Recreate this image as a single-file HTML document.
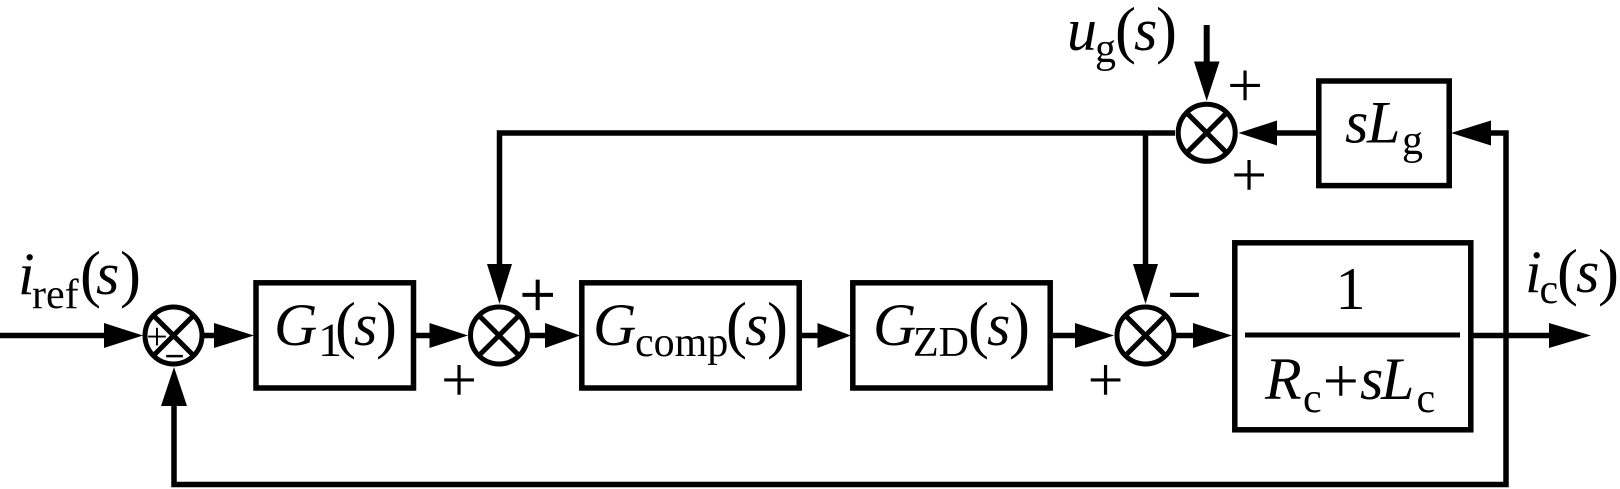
<!DOCTYPE html>
<html><head><meta charset="utf-8"><style>
html,body{margin:0;padding:0;background:#fff;width:1620px;height:489px;overflow:hidden}
svg{display:block}
text{font-family:"Liberation Serif",serif;font-size:60px;fill:#000}
.i{font-style:italic}
.s{font-size:42px}
.b{font-size:63px}
.p{font-size:64px;text-anchor:middle}
</style></head><body>
<svg width="1620" height="489" viewBox="0 0 1620 489" xmlns="http://www.w3.org/2000/svg">
<g fill="none" stroke="#000" stroke-width="5.5">
<!-- boxes -->
<rect x="256" y="282.800" width="157.500" height="105.200"/>
<rect x="581.800" y="282.800" width="217.400" height="105.200"/>
<rect x="852.800" y="282.800" width="197.400" height="105.200"/>
<rect x="1234.800" y="242.800" width="236" height="187"/>
<rect x="1318.800" y="81" width="130.400" height="104.600"/>
<!-- wires -->
<path d="M0 335.500H110M204 335.500H220M416 335.500H435M530 335.500H550M802 335.500H822M1053 335.500H1080M1176 335.500H1198M1473 335.500H1555"/>
<path d="M1245 335H1460" stroke-width="5"/>
<path d="M1175 133H499.500V270"/>
<path d="M1145.500 133V270"/>
<path d="M1206.700 25V66" stroke-width="6"/>
<path d="M1270 133H1316M1485 133H1506V484.500H174V400"/>
<!-- summers -->
<g stroke-width="5">
<circle cx="173.500" cy="335.500" r="28.500"/><path d="M153.500 315.500L193.500 355.500M193.500 315.500L153.500 355.500"/>
<circle cx="499" cy="335.500" r="28.500"/><path d="M479 315.500L519 355.500M519 315.500L479 355.500"/>
<circle cx="1145.500" cy="335.500" r="28.500"/><path d="M1125.500 315.500L1165.500 355.500M1165.500 315.500L1125.500 355.500"/>
<circle cx="1206.700" cy="132.800" r="28.500"/><path d="M1186.700 112.800L1226.700 152.800M1226.700 112.800L1186.700 152.800"/>
</g>
</g>
<!-- arrowheads -->
<g fill="#000">
<path d="M104 323L143 335.500L104 348Z"/>
<path d="M214 323L254 335.500L214 348Z"/>
<path d="M429.500 323L468 335.500L429.500 348Z"/>
<path d="M545 323L580 335.500L545 348Z"/>
<path d="M817.500 323L851 335.500L817.500 348Z"/>
<path d="M1075 323L1114 335.500L1075 348Z"/>
<path d="M1193 323L1232 335.500L1193 348Z"/>
<path d="M1549 323L1591 335.500L1549 348Z"/>
<path d="M487 264L499.500 304L512 264Z"/>
<path d="M1133 264L1145.500 304L1158 264Z"/>
<path d="M1194 61.500L1206.700 101L1219.500 61.500Z"/>
<path d="M161 406L174 367L187 406Z"/>
<path d="M1277 120.500L1238.500 133L1277 145.500Z"/>
<path d="M1491 120.500L1451 133L1491 145.500Z"/>
</g>
<!-- labels -->
<text class="i" x="18" y="294">i</text><text class="s" x="32" y="308">ref</text><text class="b" x="80" y="295">(</text><text class="i" x="96" y="294">s</text><text class="b" x="120" y="295">)</text>
<text class="i" x="274" y="345">G</text><text x="318" y="356" style="font-size:48px">1</text><text class="b" x="335" y="346">(</text><text class="i" x="354" y="345">s</text><text class="b" x="376" y="346">)</text>
<text class="i" x="593" y="345">G</text><text class="s" x="635" y="356">comp</text><text class="b" x="726" y="346">(</text><text class="i" x="745" y="345">s</text><text class="b" x="767" y="346">)</text>
<text class="i" x="873" y="345">G</text><text class="s" x="913" y="356">ZD</text><text class="b" x="968" y="346">(</text><text class="i" x="987" y="345">s</text><text class="b" x="1009" y="346">)</text>
<text x="1335.500" y="309">1</text>
<text class="i" x="1265" y="399">R</text><text class="s" x="1303" y="412">c</text><text x="1322.700" y="402" style="font-size:64px">+</text><text class="i" x="1360" y="399">s</text><text class="i" x="1381" y="399">L</text><text class="s" x="1416.500" y="412">c</text>
<text class="i" x="1525" y="292">i</text><text class="s" x="1539.500" y="303">c</text><text class="b" x="1557" y="293">(</text><text class="i" x="1576" y="292">s</text><text class="b" x="1598" y="293">)</text>
<text class="i" x="1067" y="50">u</text><text class="s" x="1095" y="62">g</text><text class="b" x="1115" y="51">(</text><text class="i" x="1134" y="50">s</text><text class="b" x="1156" y="51">)</text>
<text class="i" x="1345" y="142.500">s</text><text class="i" x="1367" y="142.500">L</text><text class="s" x="1402" y="154">g</text>
<!-- signs -->
<text class="p" x="1245" y="106.500">+</text>
<text class="p" x="1249" y="196">+</text>
<text class="p" x="459" y="401">+</text>
<text class="p" x="1105.500" y="401">+</text>
<text class="p" x="537.700" y="316" stroke="#000" stroke-width="0.8">+</text>
<text class="p" x="157" y="349" style="font-size:38px">+</text>
<text class="p" x="174.500" y="368" style="font-size:36px;font-weight:bold">−</text>
<text class="p" x="1184.500" y="315.500" style="font-size:62px;font-weight:bold">−</text>
</svg>
</body></html>
